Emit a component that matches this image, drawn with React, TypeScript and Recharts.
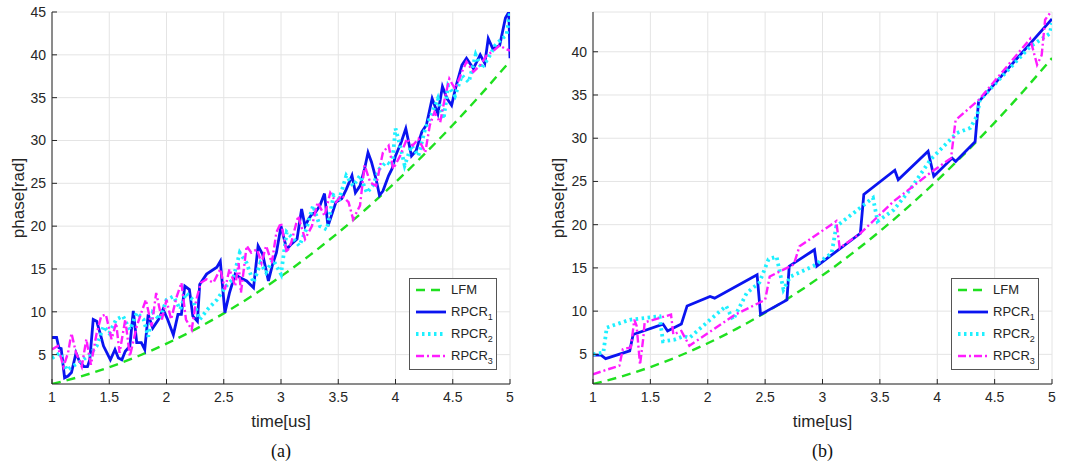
import { CartesianGrid, Line, LineChart, XAxis, YAxis } from 'recharts';

type Pt = [number, number];

const xTicks = [1, 1.5, 2, 2.5, 3, 3.5, 4, 4.5, 5];
const yTicksA = [5, 10, 15, 20, 25, 30, 35, 40, 45];
const yTicksB = [5, 10, 15, 20, 25, 30, 35, 40];

// LFM reference phase, read at quarter-microsecond steps
const lfm: Pt[] = [
  [1, 1.57], [1.25, 2.45], [1.5, 3.53], [1.75, 4.81], [2, 6.28], [2.25, 7.95],
  [2.5, 9.82], [2.75, 11.88], [3, 14.14], [3.25, 16.59], [3.5, 19.24], [3.75, 22.09],
  [4, 25.13], [4.25, 28.37], [4.5, 31.81], [4.75, 35.44], [5, 39.27],
];

// panel (a)
const a1: Pt[] = [
  [1, 7], [1.04, 7], [1.06, 5.8], [1.08, 5.7], [1.11, 2.3], [1.14, 2.5], [1.17, 2.9],
  [1.21, 5.2], [1.24, 4.2], [1.28, 3.6], [1.31, 3.6], [1.33, 4.4], [1.36, 9.1], [1.39, 8.9],
  [1.42, 7.5], [1.45, 6], [1.48, 5.2], [1.51, 4.4], [1.55, 5.6], [1.58, 4.6], [1.61, 4.4],
  [1.64, 5.4], [1.68, 6], [1.71, 10.1], [1.74, 6.4], [1.78, 6.4], [1.81, 5.6], [1.84, 9.7],
  [1.88, 8.1], [1.93, 9.1], [1.97, 10.3], [2.01, 9.1], [2.06, 7.3], [2.1, 9.7], [2.13, 9.7],
  [2.16, 13], [2.2, 12.6], [2.23, 9.5], [2.27, 8.9], [2.29, 13.2], [2.35, 14.4], [2.44, 15.2],
  [2.47, 15.9], [2.51, 9.9], [2.55, 12.2], [2.6, 14.4], [2.64, 14], [2.7, 13.6], [2.76, 12.8],
  [2.8, 17.7], [2.84, 16.7], [2.89, 13.6], [2.93, 15.7], [2.96, 16.9], [3, 20], [3.05, 17.3],
  [3.09, 17.9], [3.14, 18.5], [3.18, 22], [3.21, 20], [3.24, 20.8], [3.27, 21.4], [3.3, 21.6],
  [3.34, 22.4], [3.38, 23.8], [3.41, 20], [3.44, 21.2], [3.48, 22.8], [3.53, 23.2], [3.57, 24.3],
  [3.62, 25.9], [3.65, 23.9], [3.69, 24.7], [3.73, 26.7], [3.76, 28.6], [3.79, 27.5], [3.83, 25.5],
  [3.86, 23.6], [3.89, 24.1], [3.94, 25.9], [3.97, 26.7], [4, 28.2], [4.05, 29.8], [4.09, 31.4],
  [4.14, 28.2], [4.18, 28.8], [4.23, 31], [4.27, 31.8], [4.32, 34.9], [4.37, 33.1], [4.41, 36.3],
  [4.45, 34.9], [4.49, 34.1], [4.53, 36.4], [4.58, 38.8], [4.62, 39.6], [4.68, 38.4], [4.74, 40],
  [4.78, 39], [4.81, 41.9], [4.85, 40.7], [4.91, 41.1], [4.96, 44.3], [4.99, 45], [5, 39.6],
];
const a2: Pt[] = [
  [1, 4.6], [1.07, 5.2], [1.13, 3.2], [1.2, 3.8], [1.27, 4.4], [1.33, 5], [1.39, 6], [1.45, 8.3],
  [1.5, 7.5], [1.56, 9.1], [1.62, 9.5], [1.68, 7.9], [1.74, 9.9], [1.8, 9.1], [1.84, 7.1],
  [1.88, 9.9], [1.94, 9.1], [2, 11.4], [2.06, 11.8], [2.12, 10.3], [2.17, 12.2], [2.23, 11.4],
  [2.29, 9.1], [2.36, 10.3], [2.44, 11.4], [2.52, 13], [2.58, 13.8], [2.64, 16.9], [2.7, 15.7],
  [2.76, 13.4], [2.82, 15.7], [2.87, 14.6], [2.93, 16.1], [3, 14.4], [3.05, 19.3], [3.11, 18.5],
  [3.16, 17.7], [3.22, 19.6], [3.28, 22.4], [3.34, 20], [3.4, 19.6], [3.46, 23.6], [3.51, 23.2],
  [3.57, 25.9], [3.63, 24.7], [3.69, 25.9], [3.75, 23.9], [3.8, 24.7], [3.86, 26.7], [3.92, 27.5],
  [3.97, 27.1], [4, 31.4], [4.04, 29.4], [4.08, 27.1], [4.14, 29.4], [4.2, 28.2], [4.26, 31.4],
  [4.31, 32.9], [4.37, 34.9], [4.42, 32.5], [4.46, 36.4], [4.52, 35.2], [4.58, 37.6], [4.64, 36.8],
  [4.7, 40], [4.75, 38.4], [4.81, 39.6], [4.87, 41.1], [4.93, 41.9], [4.97, 42.3], [5, 45],
];
const a3: Pt[] = [
  [1, 5.6], [1.05, 6], [1.1, 3.6], [1.14, 5.2], [1.17, 7.5], [1.21, 5.2], [1.26, 3.6], [1.3, 6.8],
  [1.34, 3.8], [1.39, 7.5], [1.43, 9.5], [1.47, 9.7], [1.52, 6.8], [1.56, 8.7], [1.59, 5.2],
  [1.64, 9.1], [1.68, 4.8], [1.74, 8.3], [1.78, 9.9], [1.82, 11.4], [1.87, 8.3], [1.91, 12.2],
  [1.96, 9.1], [2, 11.4], [2.04, 9.1], [2.09, 11.8], [2.13, 13.4], [2.17, 9.1], [2.22, 7.9],
  [2.26, 11.4], [2.3, 13.4], [2.35, 13.8], [2.41, 13.4], [2.47, 15], [2.51, 12.6], [2.55, 15],
  [2.6, 13], [2.63, 15.7], [2.65, 12.2], [2.7, 17.7], [2.74, 16.9], [2.79, 17.3], [2.83, 15.7],
  [2.87, 17.7], [2.92, 15.7], [2.96, 19.3], [3, 20.4], [3.05, 16.9], [3.09, 18.1], [3.15, 21.2],
  [3.21, 18.5], [3.27, 20], [3.32, 22.8], [3.38, 21.2], [3.43, 23.9], [3.48, 22.8], [3.53, 23.6],
  [3.59, 22.8], [3.63, 20.8], [3.69, 22.4], [3.73, 27.1], [3.78, 25.1], [3.83, 24.7], [3.89, 28.6],
  [3.94, 29.4], [3.98, 26.7], [4.04, 28.2], [4.1, 30.2], [4.15, 29.4], [4.2, 30.2], [4.26, 28.6],
  [4.3, 31.8], [4.34, 33.3], [4.39, 32.1], [4.43, 34.9], [4.47, 37.2], [4.52, 36], [4.58, 38],
  [4.62, 39.2], [4.68, 38], [4.74, 38.8], [4.8, 40], [4.85, 40.4], [4.91, 41.1], [4.96, 40.7],
  [5, 40.5],
];

// panel (b)
const b1: Pt[] = [
  [1, 4.9], [1.07, 4.9], [1.11, 4.5], [1.32, 5.4], [1.35, 7.3], [1.61, 8.5], [1.65, 7.7],
  [1.77, 8.5], [1.82, 10.6], [2.02, 11.7], [2.06, 11.5], [2.43, 14.2], [2.46, 9.6], [2.69, 11.3],
  [2.71, 15.2], [2.93, 17.1], [2.95, 15.2], [3.33, 19], [3.36, 23.5], [3.63, 26.3], [3.66, 25.2],
  [3.92, 28.5], [3.97, 25.6], [4.13, 27.7], [4.16, 27.3], [4.33, 29.6], [4.36, 34.2], [5, 43.8],
];
const b2: Pt[] = [
  [1, 5], [1.09, 5.2], [1.12, 8.1], [1.32, 9], [1.58, 9.4], [1.61, 6.5], [1.71, 6.7], [1.79, 7.1],
  [1.84, 6.9], [2.02, 9], [2.16, 10.6], [2.22, 9], [2.34, 12.1], [2.45, 13.3], [2.53, 16],
  [2.6, 16.3], [2.66, 12.5], [2.72, 14], [2.92, 15.2], [3.08, 16.7], [3.12, 19.8], [3.44, 23.1],
  [3.48, 20.4], [3.62, 21.7], [3.76, 24], [3.94, 27.5], [4.17, 30.6], [4.29, 31.2], [4.35, 32.7],
  [4.37, 34.4], [4.81, 40.6], [4.98, 42.1], [5, 43.3],
];
const b3: Pt[] = [
  [1, 2.7], [1.23, 3.7], [1.26, 5.6], [1.33, 5.8], [1.36, 9], [1.38, 8.3], [1.41, 3.8],
  [1.44, 7.1], [1.45, 8.7], [1.68, 9.6], [1.7, 7.3], [1.77, 7.7], [1.84, 6], [2.24, 9.6],
  [2.5, 11.3], [2.54, 14], [2.75, 15.4], [2.8, 17.5], [3.12, 20.4], [3.15, 17.3], [3.33, 19],
  [3.62, 22.7], [3.94, 26], [4.12, 27.7], [4.16, 32.1], [4.36, 34.4], [4.81, 41.5], [4.87, 38.5],
  [4.91, 39.6], [4.94, 43.7], [5, 44.8],
];

const styles = [
  { name: 'LFM', sub: '', color: '#1fe01f', dash: '9 6', width: 2.4, curve: 'monotone' },
  { name: 'RPCR', sub: '1', color: '#0a14f0', dash: undefined, width: 2.8, curve: 'linear' },
  { name: 'RPCR', sub: '2', color: '#1ef0ff', dash: '2.5 3.5', width: 3.8, curve: 'linear' },
  { name: 'RPCR', sub: '3', color: '#ff1cff', dash: '8 3 2 3', width: 2.4, curve: 'linear' },
] as const;

const toPts = (p: Pt[]) => p.map(([t, y]) => ({ t, y }));

const axisColor = '#262626';
const sans = 'Liberation Sans, Arial, sans-serif';
const tickFont = { fontSize: 14, fontFamily: sans, fill: axisColor };

function LegendBox({ left }: { left: number }) {
  return (
    <div
      style={{
        position: 'absolute', left, top: 278, width: 88, height: 92,
        border: '1px solid #555', background: '#fff', boxSizing: 'border-box',
        fontFamily: sans, fontSize: 13, color: axisColor,
      }}
    >
      {styles.map((s, i) => (
        <div key={i} style={{ position: 'absolute', left: 0, top: 2 + i * 22, height: 20, width: 86 }}>
          <svg width={32} height={20} style={{ position: 'absolute', left: 6, top: 0 }}>
            <line x1={0} x2={30} y1={9} y2={9} stroke={s.color} strokeWidth={s.width}
              strokeDasharray={s.dash} />
          </svg>
          <span style={{ position: 'absolute', left: 41, top: 1, whiteSpace: 'nowrap' }}>
            {s.name}
            {s.sub && <sub style={{ fontSize: 9 }}>{s.sub}</sub>}
          </span>
        </div>
      ))}
    </div>
  );
}

function Panel({
  left, series, yTicks, yMax, marginLeft, marginRight, caption,
}: {
  left: number; series: Pt[][]; yTicks: number[]; yMax: number;
  marginLeft: number; marginRight: number; caption: string;
}) {
  const plotL = left + marginLeft + 30;
  const plotR = left + 520 - marginRight;
  const cx = (plotL + plotR) / 2;
  return (
    <>
      <div style={{ position: 'absolute', left, top: 0 }}>
        <LineChart width={520} height={466}
          margin={{ top: 12, right: marginRight, left: marginLeft, bottom: 52 }}>
          <CartesianGrid stroke="#e4e4e4" strokeWidth={1} />
          <XAxis dataKey="t" type="number" domain={[1, 5]} ticks={xTicks} allowDataOverflow
            height={30} stroke={axisColor} tick={tickFont} tickSize={-5} tickMargin={13}
            tickFormatter={(v) => String(v)} />
          <XAxis xAxisId="top" orientation="top" dataKey="t" type="number" domain={[1, 5]}
            ticks={xTicks} height={0} stroke={axisColor} tick={false} tickSize={-5} />
          <YAxis type="number" domain={[1.5708, yMax]} ticks={yTicks} allowDataOverflow width={30}
            stroke={axisColor} tick={tickFont} tickSize={-5} tickMargin={11} />
          <YAxis yAxisId="right" orientation="right" type="number" domain={[1.5708, yMax]}
            ticks={yTicks} width={0} stroke={axisColor} tick={false} tickSize={-5} />
          {series.map((d, i) => (
            <Line key={i} data={toPts(d)} dataKey="y" type={styles[i].curve}
              stroke={styles[i].color} strokeWidth={styles[i].width}
              strokeDasharray={styles[i].dash} dot={false} isAnimationActive={false} />
          ))}
        </LineChart>
      </div>
      <div style={{
        position: 'absolute', left: left + 19 - 60, top: 198 - 10, width: 120, textAlign: 'center',
        transform: 'rotate(-90deg)', fontFamily: sans, fontSize: 17,
        color: axisColor, lineHeight: '20px',
      }}>phase[rad]</div>
      <div style={{
        position: 'absolute', left: cx - 60, top: 412, width: 120, textAlign: 'center',
        fontFamily: sans, fontSize: 17, color: axisColor, lineHeight: '20px',
      }}>time[us]</div>
      <div style={{
        position: 'absolute', left: cx - 30, top: 441, width: 60, textAlign: 'center',
        fontFamily: 'Liberation Serif, Times New Roman, serif', fontSize: 18, color: '#111',
        lineHeight: '20px',
      }}>{caption}</div>
      <LegendBox left={plotR - 101} />
    </>
  );
}

export default function App() {
  return (
    <div style={{ position: 'absolute', left: 0, top: 0, width: 1069, height: 466, background: '#fff' }}>
      <Panel left={0} series={[lfm, a1, a2, a3]} yTicks={yTicksA} yMax={45}
        marginLeft={22} marginRight={10} caption="(a)" />
      <Panel left={540} series={[lfm, b1, b2, b3]} yTicks={yTicksB} yMax={44.6}
        marginLeft={23} marginRight={8} caption="(b)" />
    </div>
  );
}
